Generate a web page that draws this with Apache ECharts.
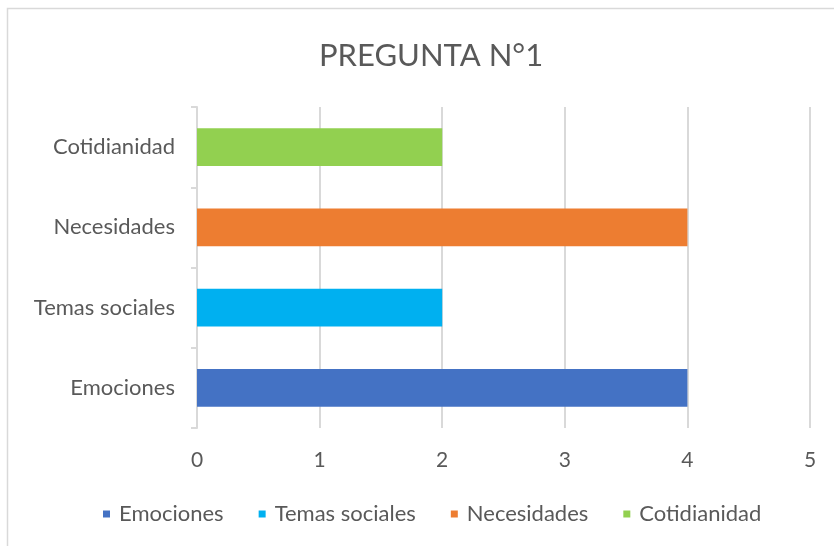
<!DOCTYPE html>
<html>
<head>
<meta charset="utf-8">
<script src="https://cdn.jsdelivr.net/npm/echarts@6/dist/echarts.min.js"></script>
<style>
  html, body { margin: 0; padding: 0; background: #fff; }
  #chart { width: 834px; height: 546px; }
</style>
</head>
<body>
<div id="chart"></div>
<script>
// datos del gráfico
var categorias = ['Emociones', 'Temas sociales', 'Necesidades', 'Cotidianidad'];
var colores = ['#4472C4', '#00B0F0', '#ED7D31', '#92D050'];
var valores = [4, 2, 4, 2];
var ticksX = [0, 1, 2, 3, 4, 5];

var myChart = echarts.init(document.getElementById('chart'));

// una serie por categoría (cada barra con su color y su entrada en la leyenda)
var series = categorias.map(function (nombre, i) {
    var data = categorias.map(function (c, j) { return j === i ? valores[i] : '-'; });
    return {
        name: nombre,
        type: 'bar',
        stack: 'total',
        barWidth: '47%',
        data: data,
        itemStyle: { color: colores[i] }
    };
});

var font = 'Lato, "Open Sans", sans-serif';

var option = {
    animation: false,
    textStyle: { fontFamily: font },
    title: {
        text: 'PREGUNTA N°1',
        left: 314,
        top: 35,
        textStyle: { color: '#595959', fontSize: 31, fontWeight: 'normal', fontFamily: font }
    },
    legend: {
        bottom: 16,
        left: 98,
        icon: 'rect',
        itemWidth: 7,
        itemHeight: 7,
        itemGap: 35,
        data: categorias,
        textStyle: { color: '#595959', fontSize: 22, fontFamily: font, padding: [0, 0, 0, 4] }
    },
    grid: { left: 197, right: 24, top: 107, bottom: 118 },
    xAxis: {
        type: 'value',
        min: ticksX[0],
        max: ticksX[ticksX.length - 1],
        interval: 1,
        axisLine: { show: false },
        axisTick: { show: false },
        axisLabel: { color: '#595959', fontSize: 21, margin: 22 },
        splitLine: { lineStyle: { color: '#d9d9d9', width: 2 } }
    },
    yAxis: {
        type: 'category',
        data: categorias,
        axisLine: { lineStyle: { color: '#d9d9d9', width: 2 } },
        axisTick: { show: true, length: 6, lineStyle: { color: '#d9d9d9', width: 2 } },
        axisLabel: { color: '#595959', fontSize: 22, margin: 22 }
    },
    graphic: [{
        type: 'rect',
        shape: { x: 7.5, y: 8.5, width: 900, height: 600 },
        style: { fill: 'none', stroke: '#d9d9d9', lineWidth: 1.5 },
        silent: true
    }],
    series: series
};

myChart.setOption(option);
</script>
</body>
</html>
